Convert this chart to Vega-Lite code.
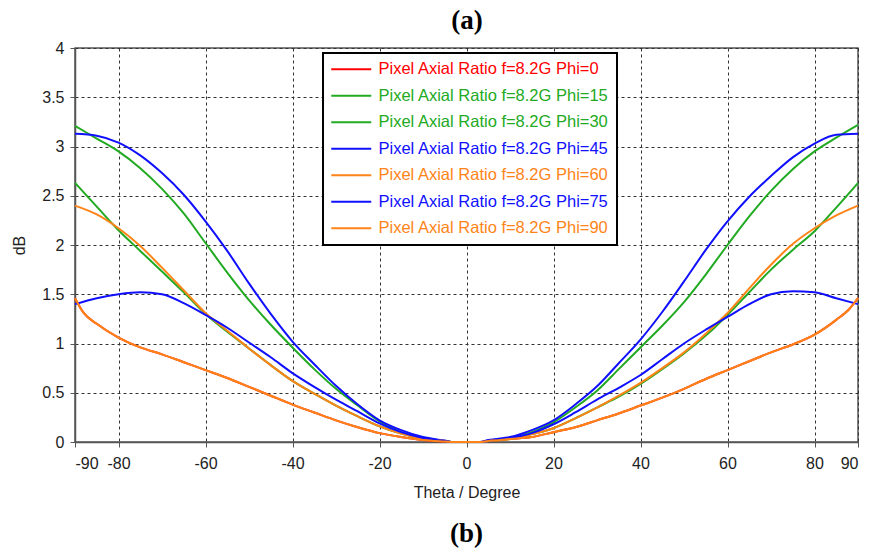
{
  "$schema": "https://vega.github.io/schema/vega-lite/v6.json",
  "width": 783,
  "height": 394,
  "autosize": {"type": "none"},
  "padding": {"left": 75, "top": 48, "right": 13, "bottom": 110},
  "background": "white",
  "title": {"text": "(b)", "orient": "bottom", "font": "Liberation Serif", "fontSize": 27, "fontWeight": "bold", "color": "black", "offset": 21},
  "config": {
    "view": {"stroke": "#555", "strokeWidth": 1.5},
    "axis": {
      "domainColor": "#555", "domainWidth": 1.5,
      "tickColor": "#555", "tickSize": 5, "tickWidth": 1,
      "labelFont": "Liberation Sans", "labelFontSize": 16, "labelColor": "#222",
      "titleFont": "Liberation Sans", "titleFontSize": 16, "titleColor": "#222", "titleFontWeight": "normal",
      "gridColor": "#333", "gridDash": [3, 3], "gridWidth": 1, "gridOpacity": 1
    }
  },
  "datasets": {
    "curves": [
      {"series": "Pixel Axial Ratio f=8.2G Phi=0", "theta": -90, "v": 1.46},
      {"series": "Pixel Axial Ratio f=8.2G Phi=0", "theta": -88, "v": 1.31},
      {"series": "Pixel Axial Ratio f=8.2G Phi=0", "theta": -85, "v": 1.2},
      {"series": "Pixel Axial Ratio f=8.2G Phi=0", "theta": -80, "v": 1.06},
      {"series": "Pixel Axial Ratio f=8.2G Phi=0", "theta": -75, "v": 0.96},
      {"series": "Pixel Axial Ratio f=8.2G Phi=0", "theta": -70, "v": 0.89},
      {"series": "Pixel Axial Ratio f=8.2G Phi=0", "theta": -65, "v": 0.81},
      {"series": "Pixel Axial Ratio f=8.2G Phi=0", "theta": -60, "v": 0.73},
      {"series": "Pixel Axial Ratio f=8.2G Phi=0", "theta": -55, "v": 0.65},
      {"series": "Pixel Axial Ratio f=8.2G Phi=0", "theta": -50, "v": 0.56},
      {"series": "Pixel Axial Ratio f=8.2G Phi=0", "theta": -45, "v": 0.47},
      {"series": "Pixel Axial Ratio f=8.2G Phi=0", "theta": -40, "v": 0.38},
      {"series": "Pixel Axial Ratio f=8.2G Phi=0", "theta": -35, "v": 0.3},
      {"series": "Pixel Axial Ratio f=8.2G Phi=0", "theta": -30, "v": 0.22},
      {"series": "Pixel Axial Ratio f=8.2G Phi=0", "theta": -25, "v": 0.15},
      {"series": "Pixel Axial Ratio f=8.2G Phi=0", "theta": -20, "v": 0.09},
      {"series": "Pixel Axial Ratio f=8.2G Phi=0", "theta": -15, "v": 0.05},
      {"series": "Pixel Axial Ratio f=8.2G Phi=0", "theta": -10, "v": 0.02},
      {"series": "Pixel Axial Ratio f=8.2G Phi=0", "theta": -5, "v": 0.005},
      {"series": "Pixel Axial Ratio f=8.2G Phi=0", "theta": -3, "v": 0},
      {"series": "Pixel Axial Ratio f=8.2G Phi=0", "theta": 3, "v": 0},
      {"series": "Pixel Axial Ratio f=8.2G Phi=0", "theta": 5, "v": 0.01},
      {"series": "Pixel Axial Ratio f=8.2G Phi=0", "theta": 10, "v": 0.03},
      {"series": "Pixel Axial Ratio f=8.2G Phi=0", "theta": 15, "v": 0.05},
      {"series": "Pixel Axial Ratio f=8.2G Phi=0", "theta": 20, "v": 0.1},
      {"series": "Pixel Axial Ratio f=8.2G Phi=0", "theta": 25, "v": 0.15},
      {"series": "Pixel Axial Ratio f=8.2G Phi=0", "theta": 30, "v": 0.22},
      {"series": "Pixel Axial Ratio f=8.2G Phi=0", "theta": 35, "v": 0.29},
      {"series": "Pixel Axial Ratio f=8.2G Phi=0", "theta": 40, "v": 0.37},
      {"series": "Pixel Axial Ratio f=8.2G Phi=0", "theta": 45, "v": 0.45},
      {"series": "Pixel Axial Ratio f=8.2G Phi=0", "theta": 50, "v": 0.54},
      {"series": "Pixel Axial Ratio f=8.2G Phi=0", "theta": 55, "v": 0.64},
      {"series": "Pixel Axial Ratio f=8.2G Phi=0", "theta": 60, "v": 0.73},
      {"series": "Pixel Axial Ratio f=8.2G Phi=0", "theta": 65, "v": 0.82},
      {"series": "Pixel Axial Ratio f=8.2G Phi=0", "theta": 70, "v": 0.91},
      {"series": "Pixel Axial Ratio f=8.2G Phi=0", "theta": 75, "v": 0.99},
      {"series": "Pixel Axial Ratio f=8.2G Phi=0", "theta": 80, "v": 1.09},
      {"series": "Pixel Axial Ratio f=8.2G Phi=0", "theta": 85, "v": 1.24},
      {"series": "Pixel Axial Ratio f=8.2G Phi=0", "theta": 88, "v": 1.35},
      {"series": "Pixel Axial Ratio f=8.2G Phi=0", "theta": 90, "v": 1.46},

      {"series": "Pixel Axial Ratio f=8.2G Phi=15", "theta": -90, "v": 3.21},
      {"series": "Pixel Axial Ratio f=8.2G Phi=15", "theta": -85, "v": 3.08},
      {"series": "Pixel Axial Ratio f=8.2G Phi=15", "theta": -80, "v": 2.95},
      {"series": "Pixel Axial Ratio f=8.2G Phi=15", "theta": -75, "v": 2.78},
      {"series": "Pixel Axial Ratio f=8.2G Phi=15", "theta": -70, "v": 2.57},
      {"series": "Pixel Axial Ratio f=8.2G Phi=15", "theta": -65, "v": 2.32},
      {"series": "Pixel Axial Ratio f=8.2G Phi=15", "theta": -60, "v": 2.02},
      {"series": "Pixel Axial Ratio f=8.2G Phi=15", "theta": -55, "v": 1.72},
      {"series": "Pixel Axial Ratio f=8.2G Phi=15", "theta": -50, "v": 1.44},
      {"series": "Pixel Axial Ratio f=8.2G Phi=15", "theta": -45, "v": 1.19},
      {"series": "Pixel Axial Ratio f=8.2G Phi=15", "theta": -40, "v": 0.96},
      {"series": "Pixel Axial Ratio f=8.2G Phi=15", "theta": -35, "v": 0.74},
      {"series": "Pixel Axial Ratio f=8.2G Phi=15", "theta": -30, "v": 0.54},
      {"series": "Pixel Axial Ratio f=8.2G Phi=15", "theta": -25, "v": 0.37},
      {"series": "Pixel Axial Ratio f=8.2G Phi=15", "theta": -20, "v": 0.21},
      {"series": "Pixel Axial Ratio f=8.2G Phi=15", "theta": -15, "v": 0.1},
      {"series": "Pixel Axial Ratio f=8.2G Phi=15", "theta": -10, "v": 0.04},
      {"series": "Pixel Axial Ratio f=8.2G Phi=15", "theta": -5, "v": 0.01},
      {"series": "Pixel Axial Ratio f=8.2G Phi=15", "theta": -3, "v": 0},
      {"series": "Pixel Axial Ratio f=8.2G Phi=15", "theta": 3, "v": 0},
      {"series": "Pixel Axial Ratio f=8.2G Phi=15", "theta": 5, "v": 0.01},
      {"series": "Pixel Axial Ratio f=8.2G Phi=15", "theta": 10, "v": 0.04},
      {"series": "Pixel Axial Ratio f=8.2G Phi=15", "theta": 15, "v": 0.1},
      {"series": "Pixel Axial Ratio f=8.2G Phi=15", "theta": 20, "v": 0.2},
      {"series": "Pixel Axial Ratio f=8.2G Phi=15", "theta": 25, "v": 0.35},
      {"series": "Pixel Axial Ratio f=8.2G Phi=15", "theta": 30, "v": 0.52},
      {"series": "Pixel Axial Ratio f=8.2G Phi=15", "theta": 35, "v": 0.74},
      {"series": "Pixel Axial Ratio f=8.2G Phi=15", "theta": 40, "v": 0.96},
      {"series": "Pixel Axial Ratio f=8.2G Phi=15", "theta": 45, "v": 1.18},
      {"series": "Pixel Axial Ratio f=8.2G Phi=15", "theta": 50, "v": 1.42},
      {"series": "Pixel Axial Ratio f=8.2G Phi=15", "theta": 55, "v": 1.7},
      {"series": "Pixel Axial Ratio f=8.2G Phi=15", "theta": 60, "v": 2.0},
      {"series": "Pixel Axial Ratio f=8.2G Phi=15", "theta": 65, "v": 2.29},
      {"series": "Pixel Axial Ratio f=8.2G Phi=15", "theta": 70, "v": 2.55},
      {"series": "Pixel Axial Ratio f=8.2G Phi=15", "theta": 75, "v": 2.77},
      {"series": "Pixel Axial Ratio f=8.2G Phi=15", "theta": 80, "v": 2.95},
      {"series": "Pixel Axial Ratio f=8.2G Phi=15", "theta": 85, "v": 3.09},
      {"series": "Pixel Axial Ratio f=8.2G Phi=15", "theta": 90, "v": 3.22},

      {"series": "Pixel Axial Ratio f=8.2G Phi=30", "theta": -90, "v": 2.63},
      {"series": "Pixel Axial Ratio f=8.2G Phi=30", "theta": -85, "v": 2.39},
      {"series": "Pixel Axial Ratio f=8.2G Phi=30", "theta": -80, "v": 2.15},
      {"series": "Pixel Axial Ratio f=8.2G Phi=30", "theta": -75, "v": 1.94},
      {"series": "Pixel Axial Ratio f=8.2G Phi=30", "theta": -70, "v": 1.73},
      {"series": "Pixel Axial Ratio f=8.2G Phi=30", "theta": -65, "v": 1.52},
      {"series": "Pixel Axial Ratio f=8.2G Phi=30", "theta": -60, "v": 1.3},
      {"series": "Pixel Axial Ratio f=8.2G Phi=30", "theta": -55, "v": 1.12},
      {"series": "Pixel Axial Ratio f=8.2G Phi=30", "theta": -50, "v": 0.95},
      {"series": "Pixel Axial Ratio f=8.2G Phi=30", "theta": -45, "v": 0.78},
      {"series": "Pixel Axial Ratio f=8.2G Phi=30", "theta": -40, "v": 0.62},
      {"series": "Pixel Axial Ratio f=8.2G Phi=30", "theta": -35, "v": 0.49},
      {"series": "Pixel Axial Ratio f=8.2G Phi=30", "theta": -30, "v": 0.37},
      {"series": "Pixel Axial Ratio f=8.2G Phi=30", "theta": -25, "v": 0.26},
      {"series": "Pixel Axial Ratio f=8.2G Phi=30", "theta": -20, "v": 0.16},
      {"series": "Pixel Axial Ratio f=8.2G Phi=30", "theta": -15, "v": 0.085},
      {"series": "Pixel Axial Ratio f=8.2G Phi=30", "theta": -10, "v": 0.03},
      {"series": "Pixel Axial Ratio f=8.2G Phi=30", "theta": -5, "v": 0.01},
      {"series": "Pixel Axial Ratio f=8.2G Phi=30", "theta": -3, "v": 0},
      {"series": "Pixel Axial Ratio f=8.2G Phi=30", "theta": 3, "v": 0},
      {"series": "Pixel Axial Ratio f=8.2G Phi=30", "theta": 5, "v": 0.01},
      {"series": "Pixel Axial Ratio f=8.2G Phi=30", "theta": 10, "v": 0.03},
      {"series": "Pixel Axial Ratio f=8.2G Phi=30", "theta": 15, "v": 0.08},
      {"series": "Pixel Axial Ratio f=8.2G Phi=30", "theta": 20, "v": 0.14},
      {"series": "Pixel Axial Ratio f=8.2G Phi=30", "theta": 25, "v": 0.24},
      {"series": "Pixel Axial Ratio f=8.2G Phi=30", "theta": 30, "v": 0.35},
      {"series": "Pixel Axial Ratio f=8.2G Phi=30", "theta": 35, "v": 0.46},
      {"series": "Pixel Axial Ratio f=8.2G Phi=30", "theta": 40, "v": 0.59},
      {"series": "Pixel Axial Ratio f=8.2G Phi=30", "theta": 45, "v": 0.74},
      {"series": "Pixel Axial Ratio f=8.2G Phi=30", "theta": 50, "v": 0.9},
      {"series": "Pixel Axial Ratio f=8.2G Phi=30", "theta": 55, "v": 1.08},
      {"series": "Pixel Axial Ratio f=8.2G Phi=30", "theta": 60, "v": 1.29},
      {"series": "Pixel Axial Ratio f=8.2G Phi=30", "theta": 65, "v": 1.52},
      {"series": "Pixel Axial Ratio f=8.2G Phi=30", "theta": 70, "v": 1.75},
      {"series": "Pixel Axial Ratio f=8.2G Phi=30", "theta": 75, "v": 1.95},
      {"series": "Pixel Axial Ratio f=8.2G Phi=30", "theta": 80, "v": 2.14},
      {"series": "Pixel Axial Ratio f=8.2G Phi=30", "theta": 85, "v": 2.38},
      {"series": "Pixel Axial Ratio f=8.2G Phi=30", "theta": 90, "v": 2.63},

      {"series": "Pixel Axial Ratio f=8.2G Phi=45", "theta": -90, "v": 3.13},
      {"series": "Pixel Axial Ratio f=8.2G Phi=45", "theta": -85, "v": 3.11},
      {"series": "Pixel Axial Ratio f=8.2G Phi=45", "theta": -80, "v": 3.04},
      {"series": "Pixel Axial Ratio f=8.2G Phi=45", "theta": -75, "v": 2.91},
      {"series": "Pixel Axial Ratio f=8.2G Phi=45", "theta": -70, "v": 2.73},
      {"series": "Pixel Axial Ratio f=8.2G Phi=45", "theta": -65, "v": 2.51},
      {"series": "Pixel Axial Ratio f=8.2G Phi=45", "theta": -60, "v": 2.24},
      {"series": "Pixel Axial Ratio f=8.2G Phi=45", "theta": -55, "v": 1.94},
      {"series": "Pixel Axial Ratio f=8.2G Phi=45", "theta": -50, "v": 1.61},
      {"series": "Pixel Axial Ratio f=8.2G Phi=45", "theta": -45, "v": 1.3},
      {"series": "Pixel Axial Ratio f=8.2G Phi=45", "theta": -40, "v": 1.02},
      {"series": "Pixel Axial Ratio f=8.2G Phi=45", "theta": -35, "v": 0.79},
      {"series": "Pixel Axial Ratio f=8.2G Phi=45", "theta": -30, "v": 0.57},
      {"series": "Pixel Axial Ratio f=8.2G Phi=45", "theta": -25, "v": 0.38},
      {"series": "Pixel Axial Ratio f=8.2G Phi=45", "theta": -20, "v": 0.22},
      {"series": "Pixel Axial Ratio f=8.2G Phi=45", "theta": -15, "v": 0.12},
      {"series": "Pixel Axial Ratio f=8.2G Phi=45", "theta": -10, "v": 0.05},
      {"series": "Pixel Axial Ratio f=8.2G Phi=45", "theta": -5, "v": 0.015},
      {"series": "Pixel Axial Ratio f=8.2G Phi=45", "theta": -3, "v": 0},
      {"series": "Pixel Axial Ratio f=8.2G Phi=45", "theta": 3, "v": 0},
      {"series": "Pixel Axial Ratio f=8.2G Phi=45", "theta": 5, "v": 0.02},
      {"series": "Pixel Axial Ratio f=8.2G Phi=45", "theta": 10, "v": 0.05},
      {"series": "Pixel Axial Ratio f=8.2G Phi=45", "theta": 15, "v": 0.12},
      {"series": "Pixel Axial Ratio f=8.2G Phi=45", "theta": 20, "v": 0.22},
      {"series": "Pixel Axial Ratio f=8.2G Phi=45", "theta": 25, "v": 0.38},
      {"series": "Pixel Axial Ratio f=8.2G Phi=45", "theta": 30, "v": 0.565},
      {"series": "Pixel Axial Ratio f=8.2G Phi=45", "theta": 35, "v": 0.8},
      {"series": "Pixel Axial Ratio f=8.2G Phi=45", "theta": 40, "v": 1.04},
      {"series": "Pixel Axial Ratio f=8.2G Phi=45", "theta": 45, "v": 1.32},
      {"series": "Pixel Axial Ratio f=8.2G Phi=45", "theta": 50, "v": 1.63},
      {"series": "Pixel Axial Ratio f=8.2G Phi=45", "theta": 55, "v": 1.95},
      {"series": "Pixel Axial Ratio f=8.2G Phi=45", "theta": 60, "v": 2.24},
      {"series": "Pixel Axial Ratio f=8.2G Phi=45", "theta": 65, "v": 2.49},
      {"series": "Pixel Axial Ratio f=8.2G Phi=45", "theta": 70, "v": 2.7},
      {"series": "Pixel Axial Ratio f=8.2G Phi=45", "theta": 75, "v": 2.89},
      {"series": "Pixel Axial Ratio f=8.2G Phi=45", "theta": 80, "v": 3.03},
      {"series": "Pixel Axial Ratio f=8.2G Phi=45", "theta": 85, "v": 3.12},
      {"series": "Pixel Axial Ratio f=8.2G Phi=45", "theta": 90, "v": 3.13},

      {"series": "Pixel Axial Ratio f=8.2G Phi=60", "theta": -90, "v": 2.4},
      {"series": "Pixel Axial Ratio f=8.2G Phi=60", "theta": -85, "v": 2.31},
      {"series": "Pixel Axial Ratio f=8.2G Phi=60", "theta": -80, "v": 2.17},
      {"series": "Pixel Axial Ratio f=8.2G Phi=60", "theta": -75, "v": 1.99},
      {"series": "Pixel Axial Ratio f=8.2G Phi=60", "theta": -70, "v": 1.77},
      {"series": "Pixel Axial Ratio f=8.2G Phi=60", "theta": -65, "v": 1.54},
      {"series": "Pixel Axial Ratio f=8.2G Phi=60", "theta": -60, "v": 1.31},
      {"series": "Pixel Axial Ratio f=8.2G Phi=60", "theta": -55, "v": 1.13},
      {"series": "Pixel Axial Ratio f=8.2G Phi=60", "theta": -50, "v": 0.95},
      {"series": "Pixel Axial Ratio f=8.2G Phi=60", "theta": -45, "v": 0.78},
      {"series": "Pixel Axial Ratio f=8.2G Phi=60", "theta": -40, "v": 0.62},
      {"series": "Pixel Axial Ratio f=8.2G Phi=60", "theta": -35, "v": 0.49},
      {"series": "Pixel Axial Ratio f=8.2G Phi=60", "theta": -30, "v": 0.37},
      {"series": "Pixel Axial Ratio f=8.2G Phi=60", "theta": -25, "v": 0.26},
      {"series": "Pixel Axial Ratio f=8.2G Phi=60", "theta": -20, "v": 0.16},
      {"series": "Pixel Axial Ratio f=8.2G Phi=60", "theta": -15, "v": 0.085},
      {"series": "Pixel Axial Ratio f=8.2G Phi=60", "theta": -10, "v": 0.03},
      {"series": "Pixel Axial Ratio f=8.2G Phi=60", "theta": -5, "v": 0.01},
      {"series": "Pixel Axial Ratio f=8.2G Phi=60", "theta": -3, "v": 0},
      {"series": "Pixel Axial Ratio f=8.2G Phi=60", "theta": 3, "v": 0},
      {"series": "Pixel Axial Ratio f=8.2G Phi=60", "theta": 5, "v": 0.01},
      {"series": "Pixel Axial Ratio f=8.2G Phi=60", "theta": 10, "v": 0.03},
      {"series": "Pixel Axial Ratio f=8.2G Phi=60", "theta": 15, "v": 0.08},
      {"series": "Pixel Axial Ratio f=8.2G Phi=60", "theta": 20, "v": 0.14},
      {"series": "Pixel Axial Ratio f=8.2G Phi=60", "theta": 25, "v": 0.24},
      {"series": "Pixel Axial Ratio f=8.2G Phi=60", "theta": 30, "v": 0.35},
      {"series": "Pixel Axial Ratio f=8.2G Phi=60", "theta": 35, "v": 0.47},
      {"series": "Pixel Axial Ratio f=8.2G Phi=60", "theta": 40, "v": 0.6},
      {"series": "Pixel Axial Ratio f=8.2G Phi=60", "theta": 45, "v": 0.75},
      {"series": "Pixel Axial Ratio f=8.2G Phi=60", "theta": 50, "v": 0.91},
      {"series": "Pixel Axial Ratio f=8.2G Phi=60", "theta": 55, "v": 1.1},
      {"series": "Pixel Axial Ratio f=8.2G Phi=60", "theta": 60, "v": 1.31},
      {"series": "Pixel Axial Ratio f=8.2G Phi=60", "theta": 65, "v": 1.56},
      {"series": "Pixel Axial Ratio f=8.2G Phi=60", "theta": 70, "v": 1.8},
      {"series": "Pixel Axial Ratio f=8.2G Phi=60", "theta": 75, "v": 2.01},
      {"series": "Pixel Axial Ratio f=8.2G Phi=60", "theta": 80, "v": 2.17},
      {"series": "Pixel Axial Ratio f=8.2G Phi=60", "theta": 85, "v": 2.3},
      {"series": "Pixel Axial Ratio f=8.2G Phi=60", "theta": 90, "v": 2.4},

      {"series": "Pixel Axial Ratio f=8.2G Phi=75", "theta": -90, "v": 1.4},
      {"series": "Pixel Axial Ratio f=8.2G Phi=75", "theta": -85, "v": 1.46},
      {"series": "Pixel Axial Ratio f=8.2G Phi=75", "theta": -80, "v": 1.5},
      {"series": "Pixel Axial Ratio f=8.2G Phi=75", "theta": -75, "v": 1.52},
      {"series": "Pixel Axial Ratio f=8.2G Phi=75", "theta": -70, "v": 1.5},
      {"series": "Pixel Axial Ratio f=8.2G Phi=75", "theta": -65, "v": 1.41},
      {"series": "Pixel Axial Ratio f=8.2G Phi=75", "theta": -60, "v": 1.29},
      {"series": "Pixel Axial Ratio f=8.2G Phi=75", "theta": -55, "v": 1.16},
      {"series": "Pixel Axial Ratio f=8.2G Phi=75", "theta": -50, "v": 1.01},
      {"series": "Pixel Axial Ratio f=8.2G Phi=75", "theta": -45, "v": 0.86},
      {"series": "Pixel Axial Ratio f=8.2G Phi=75", "theta": -40, "v": 0.7},
      {"series": "Pixel Axial Ratio f=8.2G Phi=75", "theta": -35, "v": 0.56},
      {"series": "Pixel Axial Ratio f=8.2G Phi=75", "theta": -30, "v": 0.43},
      {"series": "Pixel Axial Ratio f=8.2G Phi=75", "theta": -25, "v": 0.31},
      {"series": "Pixel Axial Ratio f=8.2G Phi=75", "theta": -20, "v": 0.19},
      {"series": "Pixel Axial Ratio f=8.2G Phi=75", "theta": -15, "v": 0.1},
      {"series": "Pixel Axial Ratio f=8.2G Phi=75", "theta": -10, "v": 0.04},
      {"series": "Pixel Axial Ratio f=8.2G Phi=75", "theta": -5, "v": 0.01},
      {"series": "Pixel Axial Ratio f=8.2G Phi=75", "theta": -3, "v": 0},
      {"series": "Pixel Axial Ratio f=8.2G Phi=75", "theta": 3, "v": 0},
      {"series": "Pixel Axial Ratio f=8.2G Phi=75", "theta": 5, "v": 0.01},
      {"series": "Pixel Axial Ratio f=8.2G Phi=75", "theta": 10, "v": 0.04},
      {"series": "Pixel Axial Ratio f=8.2G Phi=75", "theta": 15, "v": 0.09},
      {"series": "Pixel Axial Ratio f=8.2G Phi=75", "theta": 20, "v": 0.18},
      {"series": "Pixel Axial Ratio f=8.2G Phi=75", "theta": 25, "v": 0.3},
      {"series": "Pixel Axial Ratio f=8.2G Phi=75", "theta": 30, "v": 0.43},
      {"series": "Pixel Axial Ratio f=8.2G Phi=75", "theta": 35, "v": 0.55},
      {"series": "Pixel Axial Ratio f=8.2G Phi=75", "theta": 40, "v": 0.68},
      {"series": "Pixel Axial Ratio f=8.2G Phi=75", "theta": 45, "v": 0.84},
      {"series": "Pixel Axial Ratio f=8.2G Phi=75", "theta": 50, "v": 1.0},
      {"series": "Pixel Axial Ratio f=8.2G Phi=75", "theta": 55, "v": 1.14},
      {"series": "Pixel Axial Ratio f=8.2G Phi=75", "theta": 60, "v": 1.27},
      {"series": "Pixel Axial Ratio f=8.2G Phi=75", "theta": 65, "v": 1.4},
      {"series": "Pixel Axial Ratio f=8.2G Phi=75", "theta": 70, "v": 1.5},
      {"series": "Pixel Axial Ratio f=8.2G Phi=75", "theta": 75, "v": 1.53},
      {"series": "Pixel Axial Ratio f=8.2G Phi=75", "theta": 80, "v": 1.52},
      {"series": "Pixel Axial Ratio f=8.2G Phi=75", "theta": 85, "v": 1.46},
      {"series": "Pixel Axial Ratio f=8.2G Phi=75", "theta": 90, "v": 1.4},

      {"series": "Pixel Axial Ratio f=8.2G Phi=90", "theta": -90, "v": 1.46},
      {"series": "Pixel Axial Ratio f=8.2G Phi=90", "theta": -88, "v": 1.31},
      {"series": "Pixel Axial Ratio f=8.2G Phi=90", "theta": -85, "v": 1.2},
      {"series": "Pixel Axial Ratio f=8.2G Phi=90", "theta": -80, "v": 1.06},
      {"series": "Pixel Axial Ratio f=8.2G Phi=90", "theta": -75, "v": 0.96},
      {"series": "Pixel Axial Ratio f=8.2G Phi=90", "theta": -70, "v": 0.89},
      {"series": "Pixel Axial Ratio f=8.2G Phi=90", "theta": -65, "v": 0.81},
      {"series": "Pixel Axial Ratio f=8.2G Phi=90", "theta": -60, "v": 0.73},
      {"series": "Pixel Axial Ratio f=8.2G Phi=90", "theta": -55, "v": 0.65},
      {"series": "Pixel Axial Ratio f=8.2G Phi=90", "theta": -50, "v": 0.56},
      {"series": "Pixel Axial Ratio f=8.2G Phi=90", "theta": -45, "v": 0.47},
      {"series": "Pixel Axial Ratio f=8.2G Phi=90", "theta": -40, "v": 0.38},
      {"series": "Pixel Axial Ratio f=8.2G Phi=90", "theta": -35, "v": 0.3},
      {"series": "Pixel Axial Ratio f=8.2G Phi=90", "theta": -30, "v": 0.22},
      {"series": "Pixel Axial Ratio f=8.2G Phi=90", "theta": -25, "v": 0.15},
      {"series": "Pixel Axial Ratio f=8.2G Phi=90", "theta": -20, "v": 0.09},
      {"series": "Pixel Axial Ratio f=8.2G Phi=90", "theta": -15, "v": 0.05},
      {"series": "Pixel Axial Ratio f=8.2G Phi=90", "theta": -10, "v": 0.02},
      {"series": "Pixel Axial Ratio f=8.2G Phi=90", "theta": -5, "v": 0.005},
      {"series": "Pixel Axial Ratio f=8.2G Phi=90", "theta": -3, "v": 0},
      {"series": "Pixel Axial Ratio f=8.2G Phi=90", "theta": 3, "v": 0},
      {"series": "Pixel Axial Ratio f=8.2G Phi=90", "theta": 5, "v": 0.01},
      {"series": "Pixel Axial Ratio f=8.2G Phi=90", "theta": 10, "v": 0.03},
      {"series": "Pixel Axial Ratio f=8.2G Phi=90", "theta": 15, "v": 0.05},
      {"series": "Pixel Axial Ratio f=8.2G Phi=90", "theta": 20, "v": 0.1},
      {"series": "Pixel Axial Ratio f=8.2G Phi=90", "theta": 25, "v": 0.15},
      {"series": "Pixel Axial Ratio f=8.2G Phi=90", "theta": 30, "v": 0.22},
      {"series": "Pixel Axial Ratio f=8.2G Phi=90", "theta": 35, "v": 0.29},
      {"series": "Pixel Axial Ratio f=8.2G Phi=90", "theta": 40, "v": 0.37},
      {"series": "Pixel Axial Ratio f=8.2G Phi=90", "theta": 45, "v": 0.45},
      {"series": "Pixel Axial Ratio f=8.2G Phi=90", "theta": 50, "v": 0.54},
      {"series": "Pixel Axial Ratio f=8.2G Phi=90", "theta": 55, "v": 0.64},
      {"series": "Pixel Axial Ratio f=8.2G Phi=90", "theta": 60, "v": 0.73},
      {"series": "Pixel Axial Ratio f=8.2G Phi=90", "theta": 65, "v": 0.82},
      {"series": "Pixel Axial Ratio f=8.2G Phi=90", "theta": 70, "v": 0.91},
      {"series": "Pixel Axial Ratio f=8.2G Phi=90", "theta": 75, "v": 0.99},
      {"series": "Pixel Axial Ratio f=8.2G Phi=90", "theta": 80, "v": 1.09},
      {"series": "Pixel Axial Ratio f=8.2G Phi=90", "theta": 85, "v": 1.24},
      {"series": "Pixel Axial Ratio f=8.2G Phi=90", "theta": 88, "v": 1.35},
      {"series": "Pixel Axial Ratio f=8.2G Phi=90", "theta": 90, "v": 1.46}
    ],
    "toplabel": [{"theta": 0}]
  },
  "layer": [
    {
      "data": {"name": "curves"},
      "mark": {"type": "line", "strokeWidth": 2, "interpolate": "monotone", "clip": false},
      "encoding": {
        "x": {
          "field": "theta", "type": "quantitative",
          "scale": {"domain": [-90, 90], "nice": false},
          "axis": {
            "values": [-90, -80, -60, -40, -20, 0, 20, 40, 60, 80, 90],
            "labelExpr": "'' + datum.value",
            "title": "Theta / Degree", "labelPadding": 8, "titlePadding": 13
          }
        },
        "y": {
          "field": "v", "type": "quantitative",
          "scale": {"domain": [0, 4], "nice": false},
          "axis": {
            "values": [0, 0.5, 1, 1.5, 2, 2.5, 3, 3.5, 4],
            "labelExpr": "'' + datum.value", "title": "dB", "labelPadding": 6, "titlePadding": 14
          }
        },
        "color": {
          "field": "series", "type": "nominal",
          "scale": {
            "domain": [
              "Pixel Axial Ratio f=8.2G Phi=0",
              "Pixel Axial Ratio f=8.2G Phi=15",
              "Pixel Axial Ratio f=8.2G Phi=30",
              "Pixel Axial Ratio f=8.2G Phi=45",
              "Pixel Axial Ratio f=8.2G Phi=60",
              "Pixel Axial Ratio f=8.2G Phi=75",
              "Pixel Axial Ratio f=8.2G Phi=90"
            ],
            "range": ["#ff0000", "#22aa22", "#22aa22", "#1010ff", "#ff8418", "#1010ff", "#ff8418"]
          },
          "legend": {
            "orient": "none", "legendX": 248, "legendY": 5,
            "title": null,
            "symbolType": "M-2,0H8", "symbolSize": 64, "symbolStrokeWidth": 2,
            "labelFont": "Liberation Sans", "labelFontSize": 16.5, "labelLimit": 400, "labelOffset": 31,
            "rowPadding": 9.5, "padding": 8,
            "strokeColor": "black", "fillColor": "white",
            "encode": {
              "labels": {"update": {"fill": {"scale": "color", "field": "value"}}},
              "legend": {"update": {"strokeWidth": {"value": 2}}}
            }
          }
        }
      }
    },
    {
      "data": {"name": "toplabel"},
      "mark": {"type": "point", "opacity": 0},
      "encoding": {
        "x": {
          "field": "theta", "type": "quantitative",
          "axis": {
            "orient": "top", "title": "(a)", "labels": false, "ticks": false, "domain": false, "grid": false,
            "titleFont": "Liberation Serif", "titleFontSize": 27, "titleFontWeight": "bold", "titleColor": "black", "titlePadding": 14
          }
        }
      }
    }
  ],
  "resolve": {"axis": {"x": "independent"}}
}
